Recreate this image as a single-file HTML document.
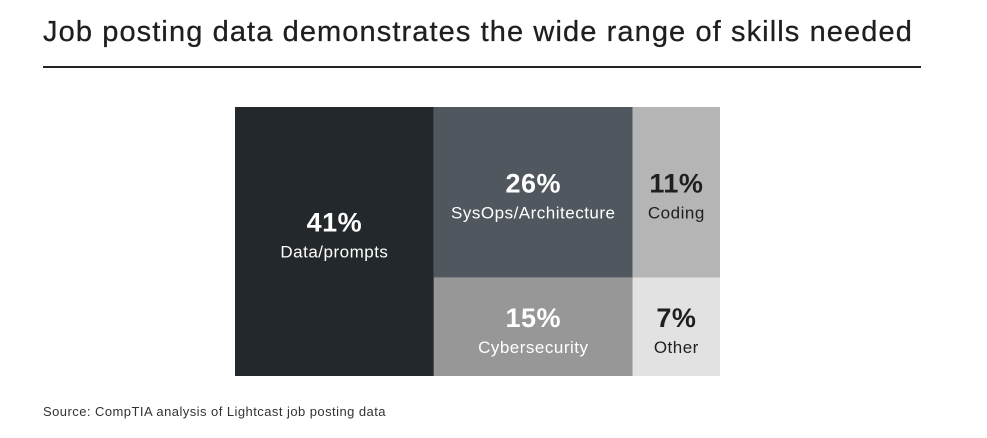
<!DOCTYPE html>
<html><head><meta charset="utf-8"><style>
body{margin:0;width:987px;height:438px;background:#fff;font-family:"Liberation Sans",sans-serif;position:relative;overflow:hidden}
.title{position:absolute;left:43px;top:16px;font-size:29px;color:#1d1f21;letter-spacing:1.1px;white-space:nowrap;-webkit-text-stroke:0.3px #1d1f21}
.rule{position:absolute;left:43px;top:66px;width:878px;height:2px;background:#222}
.src{position:absolute;left:43px;top:404px;font-size:13px;color:#333;letter-spacing:0.45px}
</style></head><body>
<div class="title">Job posting data demonstrates the wide range of skills needed</div>
<div class="rule"></div>
<svg id="tm" width="987" height="438" style="position:absolute;left:0;top:0"></svg>
<div class="src">Source: CompTIA analysis of Lightcast job posting data</div>
<script>
const labels=["Data/prompts","SysOps/Architecture","Cybersecurity","Coding","Other"];
const values=[41,26,15,11,7];
const fills=["#22282b","#50575e","#979797","#b5b5b5","#e2e2e2"];
const textColors=["#fff","#fff","#fff","#1d1f21","#1d1f21"];
const X0=235,Y0=107,W=485,H=269;
const svg=document.getElementById('tm');
const NS='http://www.w3.org/2000/svg';
const total=values.reduce((a,b)=>a+b,0);
const w0=W*values[0]/total;
const rest=W-w0;
const midW=rest*(values[1]+values[2])/(total-values[0]);
const rowH=H*values[1]/(values[1]+values[2]);
const rects=[
 [X0,Y0,w0,H],
 [X0+w0,Y0,midW,rowH],
 [X0+w0,Y0+rowH,midW,H-rowH],
 [X0+w0+midW,Y0,rest-midW,rowH],
 [X0+w0+midW,Y0+rowH,rest-midW,H-rowH]
];
rects.forEach((r,i)=>{
 const g=document.createElementNS(NS,'g');
 
 
 const rc=document.createElementNS(NS,'rect');
 rc.setAttribute('x',r[0]);rc.setAttribute('y',r[1]);rc.setAttribute('width',r[2]);rc.setAttribute('height',r[3]);rc.setAttribute('fill',fills[i]);
 g.appendChild(rc);
 const cx=r[0]+r[2]/2,cy=r[1]+r[3]/2+(i===0?0:10);
 const t1=document.createElementNS(NS,'text');
 t1.setAttribute('x',cx);t1.setAttribute('y',cy-10);t1.setAttribute('text-anchor','middle');
 t1.setAttribute('font-size','27');t1.setAttribute('font-weight','bold');t1.setAttribute('fill',textColors[i]);
 t1.setAttribute('font-family','Liberation Sans, sans-serif');t1.setAttribute('letter-spacing','0.5');
 t1.textContent=values[i]+'%';
 
 
 const t2=document.createElementNS(NS,'text');
 t2.setAttribute('x',cx);t2.setAttribute('y',cy+16);t2.setAttribute('text-anchor','middle');
 t2.setAttribute('font-size','17');t2.setAttribute('fill',textColors[i]);t2.setAttribute('letter-spacing','0.5');
 t2.setAttribute('font-family','Liberation Sans, sans-serif');
 t2.textContent=labels[i];
 
 
 g.appendChild(t1);g.appendChild(t2);svg.appendChild(g);
});
</script>
</body></html>
